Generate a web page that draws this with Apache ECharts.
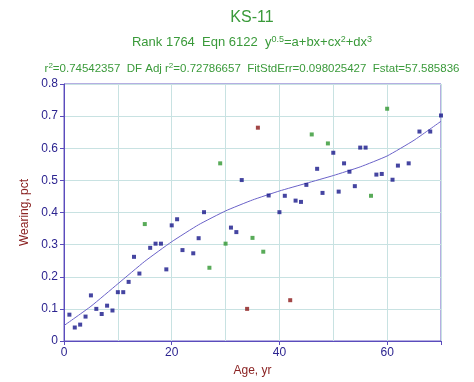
<!DOCTYPE html>
<html><head><meta charset="utf-8">
<script src="https://cdn.jsdelivr.net/npm/echarts@6/dist/echarts.min.js"></script>
<style>html,body{margin:0;padding:0;background:#fff}#c{width:474px;height:382px}</style>
</head><body><div id="c"></div>
<script>
var blueX = [1,2,3,4,5,6,7,8,9,10,11,12,13,14,16,17,18,19,20,21,22,24,25,26,31,32,33,38,40,41,43,44,45,47,48,50,51,52,53,54,55,56,58,59,61,62,64,66,68,70];
var blueY = [0.082,0.042,0.051,0.076,0.142,0.100,0.084,0.110,0.095,0.152,0.152,0.184,0.262,0.210,0.290,0.303,0.303,0.223,0.360,0.379,0.283,0.273,0.320,0.401,0.353,0.339,0.501,0.453,0.401,0.452,0.437,0.433,0.486,0.536,0.461,0.586,0.465,0.553,0.527,0.482,0.602,0.602,0.518,0.520,0.502,0.546,0.553,0.652,0.652,0.702];
var greenX = [15,27,29,30,35,37,46,49,57,60];
var greenY = [0.364,0.228,0.553,0.303,0.321,0.278,0.643,0.615,0.452,0.723];
var redX = [34,36,42];
var redY = [0.100,0.664,0.127];
var fitX = [0,5,10,15,20,25,30,35,40,45,50,55,60,65,70];
var fitY = [0.048,0.108,0.178,0.248,0.309,0.362,0.405,0.439,0.467,0.491,0.515,0.542,0.576,0.625,0.684];
var xTicks = [0,20,40,60];
var yTicks = [0,0.1,0.2,0.3,0.4,0.5,0.6,0.7,0.8];

function pairs(xs, ys){ return xs.map(function(x,i){return [x, ys[i]];}); }

var chart = echarts.init(document.getElementById('c'));
var FONT = 'Liberation Sans, Arial, sans-serif';
var titleColor = '#3a9a3a';
var axisColor = '#5a4cbc';
chart.setOption({
  animation: false,
  textStyle: {fontFamily: FONT},
  title: [
    {text: 'KS-11', left: 252, top: 10, textAlign: 'center', padding: 0,
     textStyle: {fontSize: 16, fontWeight: 'normal', color: titleColor, fontFamily: FONT}},
    {text: 'Rank 1764  Eqn 6122  y{s|0.5}=a+bx+cx{s|2}+dx{s|3}', left: 252, top: 35, textAlign: 'center', padding: 0,
     textStyle: {fontSize: 13, fontWeight: 'normal', color: titleColor, fontFamily: FONT,
       rich: {s: {fontSize: 9, color: titleColor, verticalAlign: 'top', padding: [0,0,6,0], fontFamily: FONT}}}},
    {text: 'r{s|2}=0.74542357  DF Adj r{s|2}=0.72786657  FitStdErr=0.098025427  Fstat=57.585836', left: 252, top: 62, textAlign: 'center', padding: 0,
     textStyle: {fontSize: 11.5, fontWeight: 'normal', color: titleColor, fontFamily: FONT,
       rich: {s: {fontSize: 8, color: titleColor, verticalAlign: 'top', padding: [0,0,5,0], fontFamily: FONT}}}}
  ],
  grid: {left: 64, top: 84, right: 33, bottom: 35, show: true, borderColor: '#6a5cc4', borderWidth: 1},
  xAxis: [{
    type: 'value', min: 0, max: 70, interval: 10,
    name: 'Age, yr', nameLocation: 'middle', nameGap: 24,
    nameTextStyle: {color: '#8b2323', fontSize: 12, fontFamily: FONT},
    axisLine: {lineStyle: {color: axisColor}},
    axisTick: {show: false},
    axisLabel: {color: '#2c2490', fontSize: 12, margin: 6, fontFamily: FONT,
      formatter: function(v){ return xTicks.indexOf(v) >= 0 ? String(v) : ''; }},
    splitLine: {show: true, lineStyle: {color: '#c8e2e2', width: 1}}
  }, {
    type: 'value', min: 0, max: 70, interval: 20, position: 'bottom',
    axisLine: {show: false},
    axisTick: {show: true, length: 4, lineStyle: {color: axisColor}},
    axisLabel: {show: false},
    splitLine: {show: false}
  }],
  yAxis: {
    type: 'value', min: 0, max: 0.8, interval: 0.1,
    name: 'Wearing, pct', nameLocation: 'middle', nameGap: 33,
    nameTextStyle: {color: '#8b2323', fontSize: 12, fontFamily: FONT},
    axisLine: {lineStyle: {color: axisColor}},
    axisTick: {show: true, length: 4, lineStyle: {color: axisColor}},
    axisLabel: {color: '#2c2490', fontSize: 12, margin: 6, fontFamily: FONT,
      formatter: function(v){ var r = Math.round(v*10)/10; return yTicks.indexOf(r) >= 0 ? (r === 0 ? '0' : r.toFixed(1)) : ''; }},
    splitLine: {show: true, lineStyle: {color: '#c8e2e2', width: 1}}
  },
  series: [
    {type: 'line', data: pairs(fitX, fitY), smooth: 0.15, symbol: 'none',
     lineStyle: {color: '#6a62c8', width: 1}, z: 2},
    {type: 'scatter', data: pairs(blueX, blueY), symbol: 'rect', symbolSize: 4,
     itemStyle: {color: '#16168a'}, z: 3},
    {type: 'scatter', data: pairs(greenX, greenY), symbol: 'rect', symbolSize: 4,
     itemStyle: {color: '#2f962f'}, z: 3},
    {type: 'scatter', data: pairs(redX, redY), symbol: 'rect', symbolSize: 4,
     itemStyle: {color: '#8b1818'}, z: 3}
  ]
});
</script></body></html>
